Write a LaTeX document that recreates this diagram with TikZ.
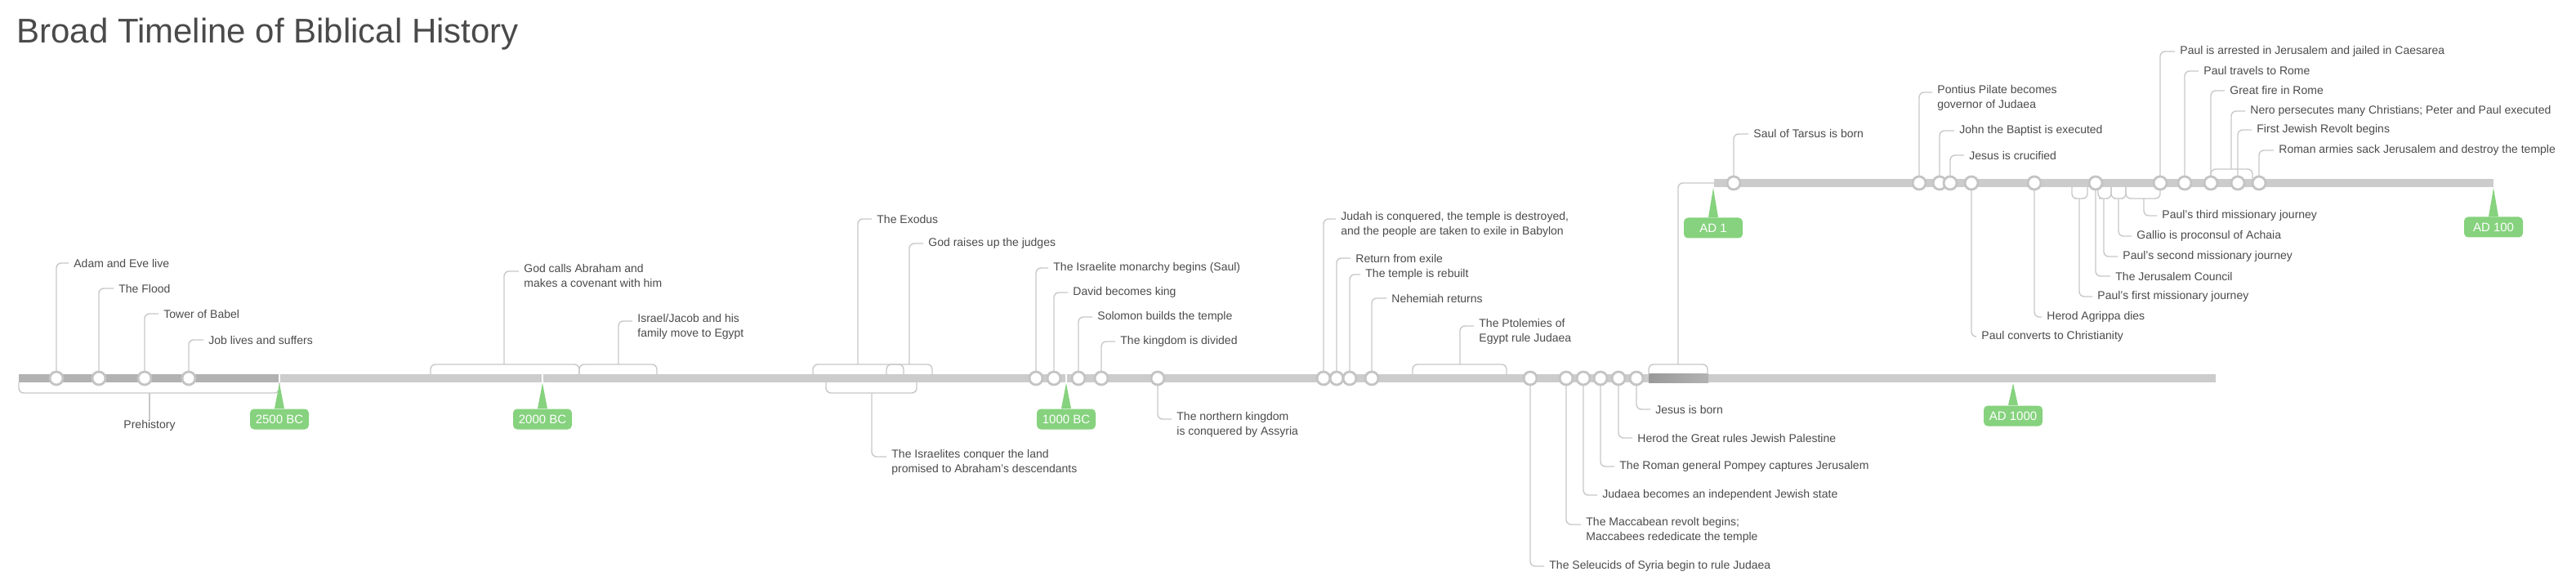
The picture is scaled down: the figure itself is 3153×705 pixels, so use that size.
\documentclass[tikz,border=0pt]{standalone}
\usepackage{fontspec}
\setmainfont{Liberation Sans}
\begin{document}
\begin{tikzpicture}[x=0.5pt,y=-0.5pt,
  bar/.style={line width=5pt,draw=barc},
  dot/.style={circle,fill=white,draw=dotc,line width=1.4pt,minimum size=8pt,inner sep=0pt},
  conn/.style={draw=connc,line width=0.7pt,rounded corners=3pt},
  lbl/.style={anchor=west,inner sep=0pt,font=\fontsize{7}{9}\selectfont,text=txt},
  lbl2/.style={anchor=north west,align=left,inner sep=0pt,font=\fontsize{7}{9}\selectfont,text=txt},
  era/.style={fill=grn,rounded corners=2.5pt,text=white,font=\fontsize{7.5}{9}\selectfont,minimum width=36pt,minimum height=12.5pt,inner sep=0pt},
  ptr/.style={fill=grn,draw=none}]
\definecolor{barc}{HTML}{CCCCCC}
\definecolor{dotc}{HTML}{C4C4C4}
\definecolor{connc}{HTML}{C8C8C8}
\definecolor{txt}{HTML}{4A4A4A}
\definecolor{grn}{HTML}{86D27E}
\useasboundingbox (0,0) rectangle (3153,705);
\node[anchor=west,inner sep=0pt,font=\fontsize{21}{24}\selectfont,text=txt] (title) at (20,42) {Broad Timeline of Biblical History};
% bars
\draw[bar] (23,463) -- (2712,463);
\draw[line width=5pt,draw=black!30] (23,463) -- (342,463);
\shade[left color=black!40,right color=black!30] (2018,458) rectangle (2091,468);
\draw[bar] (2098,224) -- (3052,224);
\foreach \gx in {342,664,1305}{\draw[white,line width=1pt] (\gx,457) -- (\gx,469);}
% dot coordinates lower
\foreach \n/\x in {a/69,b/121,c/177,d/231,e/1268,f/1290,g/1320,h/1348,i/1417,j/1620,k/1636,l/1652,m/1679,n/1873,o/1917,p/1938,q/1959,r/1981,s/2003}{\coordinate (d\n) at (\x,463);}
\foreach \n/\x in {A/2122,B/2349,C/2374,D/2387,E/2413,F/2490,G/2565,H/2644,I/2674,J/2706,K/2739,L/2765}{\coordinate (d\n) at (\x,224);}
% labels
\node[lbl] (la) at (90,322) {Adam and Eve live};
\node[lbl] (lb) at (145,353) {The Flood};
\node[lbl] (lc) at (200,384) {Tower of Babel};
\node[lbl] (ld) at (255,416) {Job lives and suffers};
\node[lbl2] (lab) at (641,323) {God calls Abraham and\\makes a covenant with him};
\node[lbl2] (lis) at (780,384) {Israel/Jacob and his\\family move to Egypt};
\node[lbl] (lex) at (1073,268) {The Exodus};
\node[lbl] (lju) at (1136,298) {God raises up the judges};
\node[lbl2] (lco) at (1091,550) {The Israelites conquer the land\\promised to Abraham’s descendants};
\node[lbl] (le) at (1289,328) {The Israelite monarchy begins (Saul)};
\node[lbl] (lf) at (1313,358) {David becomes king};
\node[lbl] (lg) at (1343,388) {Solomon builds the temple};
\node[lbl] (lh) at (1371,418) {The kingdom is divided};
\node[lbl2] (li) at (1440,504) {The northern kingdom\\is conquered by Assyria};
\node[lbl2] (lj) at (1641,259) {Judah is conquered, the temple is destroyed,\\and the people are taken to exile in Babylon};
\node[lbl] (lk) at (1659,316) {Return from exile};
\node[lbl] (ll) at (1671,336) {The temple is rebuilt};
\node[lbl] (lm) at (1703,365) {Nehemiah returns};
\node[lbl2] (lpt) at (1810,390) {The Ptolemies of\\Egypt rule Judaea};
\node[lbl] (ln) at (1896,693) {The Seleucids of Syria begin to rule Judaea};
\node[lbl2] (lo) at (1941,633) {The Maccabean revolt begins;\\Maccabees rededicate the temple};
\node[lbl] (lp) at (1961,606) {Judaea becomes an independent Jewish state};
\node[lbl] (lq) at (1982,571) {The Roman general Pompey captures Jerusalem};
\node[lbl] (lr) at (2004,536) {Herod the Great rules Jewish Palestine};
\node[lbl] (ls) at (2026,501) {Jesus is born};
\node[anchor=north,inner sep=0pt,font=\fontsize{7}{9}\selectfont,text=txt] (lpre) at (183,514) {Prehistory};
\node[lbl] (lA) at (2146,164) {Saul of Tarsus is born};
\node[lbl2] (lB) at (2371,104) {Pontius Pilate becomes\\governor of Judaea};
\node[lbl] (lC) at (2398,160) {John the Baptist is executed};
\node[lbl] (lD) at (2410,190) {Jesus is crucified};
\node[lbl] (lE) at (2425,412) {Paul converts to Christianity};
\node[lbl] (lF) at (2505,388) {Herod Agrippa dies};
\node[lbl] (lp1) at (2567,363) {Paul’s first missionary journey};
\node[lbl] (lG) at (2589,338) {The Jerusalem Council};
\node[lbl] (lp2) at (2598,314) {Paul’s second missionary journey};
\node[lbl] (lga) at (2615,289) {Gallio is proconsul of Achaia};
\node[lbl] (lp3) at (2646,264) {Paul’s third missionary journey};
\node[lbl] (lH) at (2668,63) {Paul is arrested in Jerusalem and jailed in Caesarea};
\node[lbl] (lI) at (2697,87) {Paul travels to Rome};
\node[lbl] (lJ) at (2729,111) {Great fire in Rome};
\node[lbl] (lne) at (2754,136) {Nero persecutes many Christians; Peter and Paul executed};
\node[lbl] (lK) at (2762,159) {First Jewish Revolt begins};
\node[lbl] (lL) at (2789,184) {Roman armies sack Jerusalem and destroy the temple};
% single-dot connectors
\foreach \n in {a,b,c,d,e,f,g,h,k,l,m,r,s,q,p,n,A,C,D,E,F,G,H,I,J,K,L}{\draw[conn] (d\n) |- ([xshift=-3pt]l\n.west);}
\foreach \n in {i,j,o,B}{\draw[conn] (d\n) |- ([xshift=-3pt,yshift=-4.5pt]l\n.north west);}
% brackets above main bar
\coordinate (bab) at (617,446); \coordinate (bis) at (757,446); \coordinate (bex) at (1050,446);
\coordinate (bju) at (1113,446); \coordinate (bpt) at (1787,446); \coordinate (bad) at (2054,446);
\draw[conn] (527,458) |- (bab) -| (709,458);
\draw[conn] (709,458) |- (bis) -| (804,458);
\draw[conn] (995,458) |- (bex) -| (1106,458);
\draw[conn] (1085,458) |- (bju) -| (1141,458);
\draw[conn] (1729,458) |- (bpt) -| (1844,458);
\draw[conn] (2018,458) |- (bad) -| (2090,458);
\draw[conn] (bab) |- ([xshift=-3pt,yshift=-4.5pt]lab.north west);
\draw[conn] (bis) |- ([xshift=-3pt,yshift=-4.5pt]lis.north west);
\draw[conn] (bex) |- ([xshift=-3pt]lex.west);
\draw[conn] (bju) |- ([xshift=-3pt]lju.west);
\draw[conn] (bpt) |- ([xshift=-3pt,yshift=-4.5pt]lpt.north west);
\coordinate (upstart) at (2098,224);
\draw[conn] (bad) |- (upstart);
% brackets below main bar
\coordinate (bpre) at (183,481); \coordinate (bco) at (1067,481);
\draw[conn] (23,468) |- (bpre) -| (342,468);
\draw[conn] (bpre) -- (lpre.north);
\draw[conn] (1011,468) |- (bco) -| (1122,468);
\draw[conn] (bco) |- ([xshift=-3pt,yshift=-4.5pt]lco.north west);
% upper bar brackets
\coordinate (bp1) at (2545,243); \coordinate (bp2) at (2575,243); \coordinate (bga) at (2593,243);
\coordinate (bp3) at (2624,243); \coordinate (bne) at (2731,207);
\draw[conn] (2536,229) |- (bp1) -| (2555,229);
\draw[conn] (2568,229) |- (bp2) -| (2584,229);
\draw[conn] (2584,229) |- (bga) -| (2602,229);
\draw[conn] (2602,229) |- (bp3) -| (2644,229);
\draw[conn] (2706,219) |- (bne) -| (2757,219);
\draw[conn] (bp1) |- ([xshift=-3pt]lp1.west);
\draw[conn] (bp2) |- ([xshift=-3pt]lp2.west);
\draw[conn] (bga) |- ([xshift=-3pt]lga.west);
\draw[conn] (bp3) |- ([xshift=-3pt]lp3.west);
\draw[conn] (bne) |- ([xshift=-3pt]lne.west);
% dots
\foreach \n in {a,b,c,d,e,f,g,h,i,j,k,l,m,n,o,p,q,r,s,A,B,C,D,E,F,G,H,I,J,K,L}{\node[dot] (o\n) at (d\n) {};}
% era labels
\foreach \nm/\x/\y/\t in {e1/342/513/2500 BC,e2/664/513/2000 BC,e3/1305/513/1000 BC,e4/2464/509/AD 1000}{
  \node[era] (\nm) at (\x,\y) {\t};
  \fill[grn] ([xshift=-3pt]\nm.north) -- (\x,469) -- ([xshift=3pt]\nm.north) -- cycle;}
\foreach \nm/\x/\y/\t in {e5/2097/279/AD 1,e6/3052/278/AD 100}{
  \node[era] (\nm) at (\x,\y) {\t};
  \fill[grn] ([xshift=-3pt]\nm.north) -- (\x,230) -- ([xshift=3pt]\nm.north) -- cycle;}
\end{tikzpicture}
\end{document}
